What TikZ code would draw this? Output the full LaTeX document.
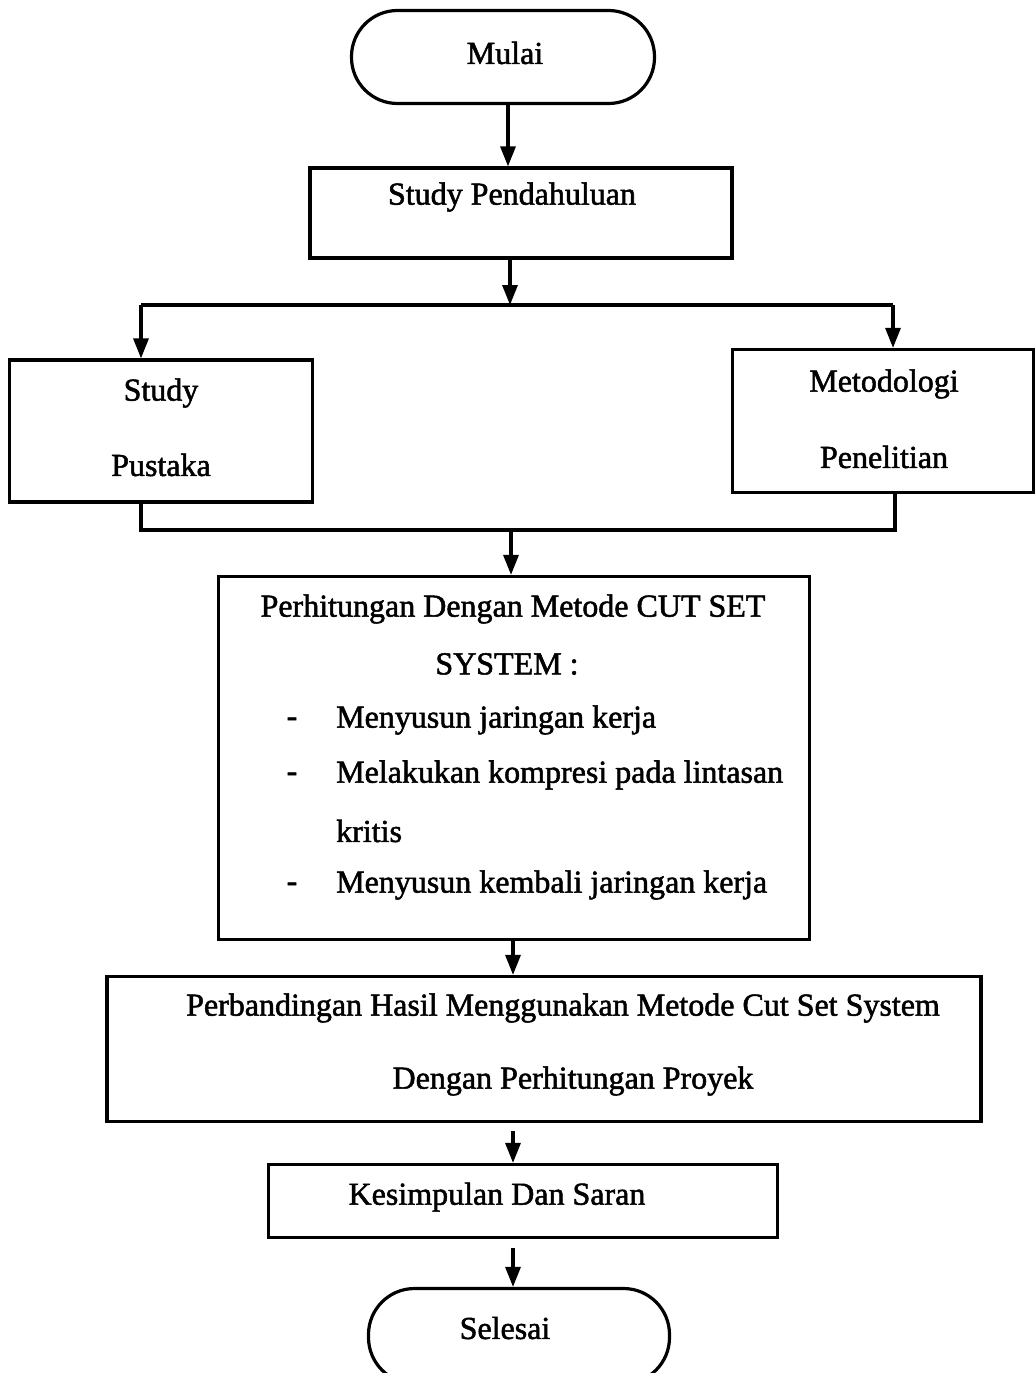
\documentclass[tikz,border=0pt]{standalone}
\usepackage{fontspec}
\setmainfont[FakeBold=1.6]{Liberation Serif}
\usetikzlibrary{arrows.meta}
\begin{document}
\begin{tikzpicture}[x=1pt,y=-1pt,
  box/.style={draw=black,line width=3.2pt,rectangle,inner sep=0pt},
  pill/.style={draw=black,line width=3.2pt,rectangle,rounded corners=46pt,inner sep=0pt},
  txt/.style={inner sep=0pt,font=\fontsize{32}{38}\selectfont},
  conn/.style={line width=3.2pt},
  arr/.style={line width=3.2pt,-{Triangle[width=15pt,length=20pt]}}]
\useasboundingbox (0,0) rectangle (1035,1373);
\fill[white] (0,0) rectangle (1035,1373);
\clip (0,0) rectangle (1035,1373);

% nodes (boxes)
\node[pill,minimum width=303pt,minimum height=93pt] (mulai) at (503,57) {};
\node[box,minimum width=422pt,minimum height=90pt] (sp) at (521,213) {};
\node[box,minimum width=303pt,minimum height=142pt] (pustaka) at (161,431) {};
\node[box,minimum width=301pt,minimum height=143pt] (metod) at (883,421) {};
\node[box,minimum width=591pt,minimum height=363pt] (hit) at (514,758) {};
\node[box,minimum width=874pt,minimum height=145pt] (banding) at (544,1049) {};
\node[box,minimum width=509pt,minimum height=73pt] (kes) at (523,1201) {};
\node[pill,minimum width=301pt,minimum height=95pt] (selesai) at (519,1336) {};

% texts
\node[txt] (tmulai) at (505,53) {Mulai};
\node[txt] (tsp) at (512,197) {Study Pendahuluan};
\node[txt] (tpus1) at (161,393) {Study};
\node[txt] (tpus2) at (161,465) {Pustaka};
\node[txt] (tmet1) at (884,384) {Metodologi};
\node[txt] (tmet2) at (884,457) {Penelitian};
\node[txt] (thit1) at (513,609) {Perhitungan Dengan Metode CUT SET};
\node[txt] (thit2) at (507,664) {SYSTEM :};
\node[txt] (b1) at (292,722) {-};
\node[txt] (b2) at (292,777) {-};
\node[txt] (b3) at (292,887) {-};
\node[txt,anchor=west] (l1) at (336,720) {Menyusun jaringan kerja};
\node[txt,anchor=west] (l2) at (336,775) {Melakukan kompresi pada lintasan};
\node[txt,anchor=west] (l3) at (336,831) {kritis};
\node[txt,anchor=west] (l4) at (336,885) {Menyusun kembali jaringan kerja};
\node[txt] (tb1) at (563,1008) {Perbandingan Hasil Menggunakan Metode Cut Set System};
\node[txt] (tb2) at (573,1081) {Dengan Perhitungan Proyek};
\node[txt] (tkes) at (497,1197) {Kesimpulan Dan Saran};
\node[txt] (tsel) at (505,1328) {Selesai};

% connectors
\coordinate (split) at (510,305);
\coordinate (splitL) at (141,305);
\coordinate (splitR) at (893,305);
\coordinate (mergeL) at (141,530);
\coordinate (mergeR) at (895,530);
\coordinate (merge) at (511,530);

\draw[arr] (mulai.south -| 508,0) -- (sp.north -| 508,0);
\draw[arr] (sp.south -| split) -- (split);
\draw[conn] (splitL) -- (splitR);
\draw[arr] (splitL) -- (pustaka.north -| splitL);
\draw[arr] (splitR) -- (metod.north -| splitR);
\draw[conn] (pustaka.south -| mergeL) -- (mergeL) -- (mergeR) -- (metod.south -| mergeR);
\draw[arr] (merge) -- (hit.north -| merge);
\draw[arr] (hit.south -| 513,0) -- (banding.north -| 513,0);
\draw[arr] ([yshift=-8pt]banding.south -| 513,0) -- (kes.north -| 513,0);
\draw[arr] ([yshift=-9pt]kes.south -| 513,0) -- (selesai.north -| 513,0);
\end{tikzpicture}
\end{document}
